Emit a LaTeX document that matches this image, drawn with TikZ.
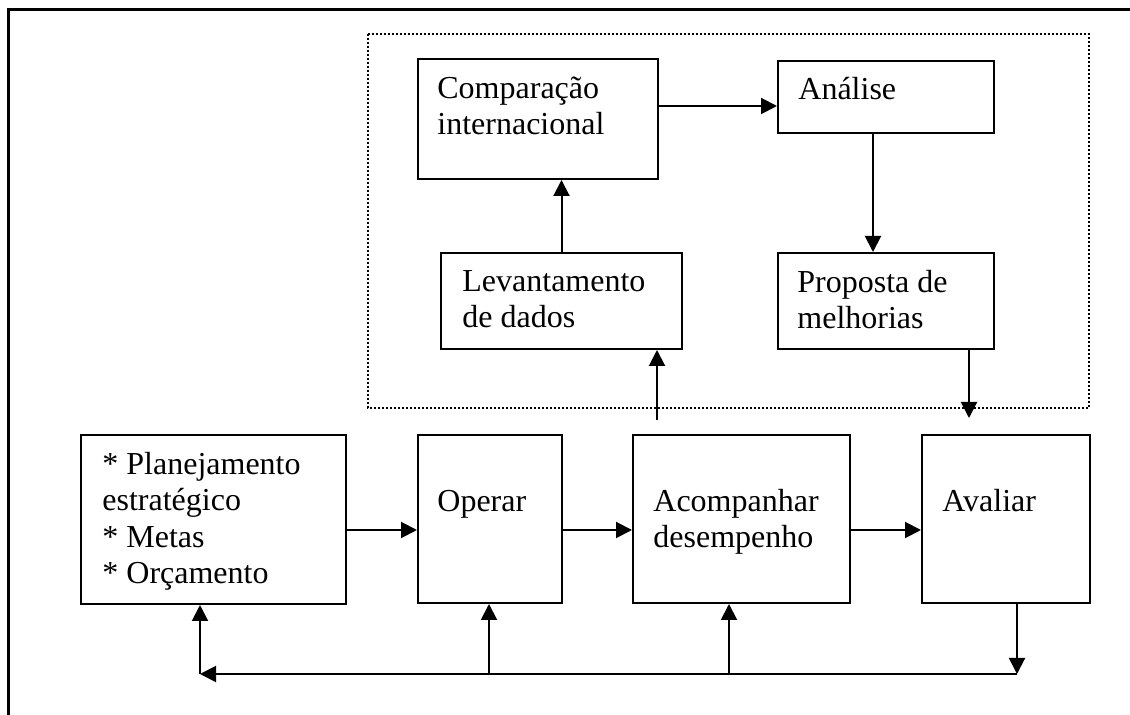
\documentclass[tikz,border=0pt]{standalone}
\usepackage{fontspec}
\setmainfont{Liberation Serif}
\usetikzlibrary{arrows.meta}
\begin{document}
\begin{tikzpicture}[x=0.5pt,y=-0.5pt,
  box/.style={draw, line width=1pt, inner sep=0pt, anchor=north west},
  lbl/.style={anchor=base west, inner sep=0pt, align=left, font=\fontsize{16pt}{18pt}\selectfont},
  arr/.style={-{Triangle[length=8pt,width=8pt]}, line width=1pt},
  dotbox/.style={line width=1pt, dash pattern=on 1pt off 1pt}]
\useasboundingbox (0,0) rectangle (1130,715);
% outer frame (partly cropped)
\draw[line width=1.5pt] (8.5,715) -- (8.5,10) -- (1130,10);
% dotted group
\draw[dotbox] (368,34) rectangle (1089,408);
% boxes
\node[box, minimum width=120pt, minimum height=60pt] (comp) at (417,58) {};
\node[box, minimum width=108pt, minimum height=36pt] (anal) at (777,60) {};
\node[box, minimum width=120.5pt, minimum height=48pt] (lev) at (440,252) {};
\node[box, minimum width=108pt, minimum height=48pt] (prop) at (777,252) {};
\node[box, minimum width=132.5pt, minimum height=84.5pt] (plan) at (80,434) {};
\node[box, minimum width=72pt, minimum height=84pt] (oper) at (417,434) {};
\node[box, minimum width=108.5pt, minimum height=84pt] (acomp) at (632,434) {};
\node[box, minimum width=84pt, minimum height=84pt] (aval) at (921,434) {};
% texts (anchor = baseline of last line)
\node[lbl] (tcomp) at (437,135) {Comparação\\internacional};
\node[lbl] (tanal) at (798,100) {Análise};
\node[lbl] (tlev) at (462,328) {Levantamento\\de dados};
\node[lbl] (tprop) at (797,329) {Proposta de\\melhorias};
\node[lbl, font=\fontsize{16pt}{18.25pt}\selectfont] (tplan) at (102,584) {* Planejamento\\estratégico\\* Metas\\* Orçamento};
\node[lbl] (toper) at (437,512) {Operar};
\node[lbl] (tacomp) at (653,548) {Acompanhar\\desempenho};
\node[lbl] (taval) at (942,512) {Avaliar};
% helper coordinates
\coordinate (h1) at (0,106);
\coordinate (v1) at (873,0);
\coordinate (levin) at (657,420);
\coordinate (v2) at (969,0);
\coordinate (propout) at (969,418);
\coordinate (h2) at (0,530);
\coordinate (fbR) at (1017,674);
\coordinate (fbL) at (200,674);
\coordinate (fbO) at (489,674);
\coordinate (fbA) at (729,674);
% connectors
\draw[arr] (comp.east |- h1) -- (anal.west |- h1);
\draw[arr] (anal.south -| v1) -- (prop.north -| v1);
\draw[arr] (lev.north) -- (lev.north |- comp.south);
\draw[arr] (levin) -- (levin |- lev.south);
\draw[arr] (prop.south -| v2) -- (propout);
\draw[arr] (plan.east |- h2) -- (oper.west |- h2);
\draw[arr] (oper.east |- h2) -- (acomp.west |- h2);
\draw[arr] (acomp.east |- h2) -- (aval.west |- h2);
\draw[arr] (aval.south -| fbR) -- (fbR);
\draw[arr] (fbR) -- (fbL);
\draw[arr] (fbL) -- (fbL |- plan.south);
\draw[arr] (fbO) -- (fbO |- oper.south);
\draw[arr] (fbA) -- (fbA |- acomp.south);
\end{tikzpicture}
\end{document}
